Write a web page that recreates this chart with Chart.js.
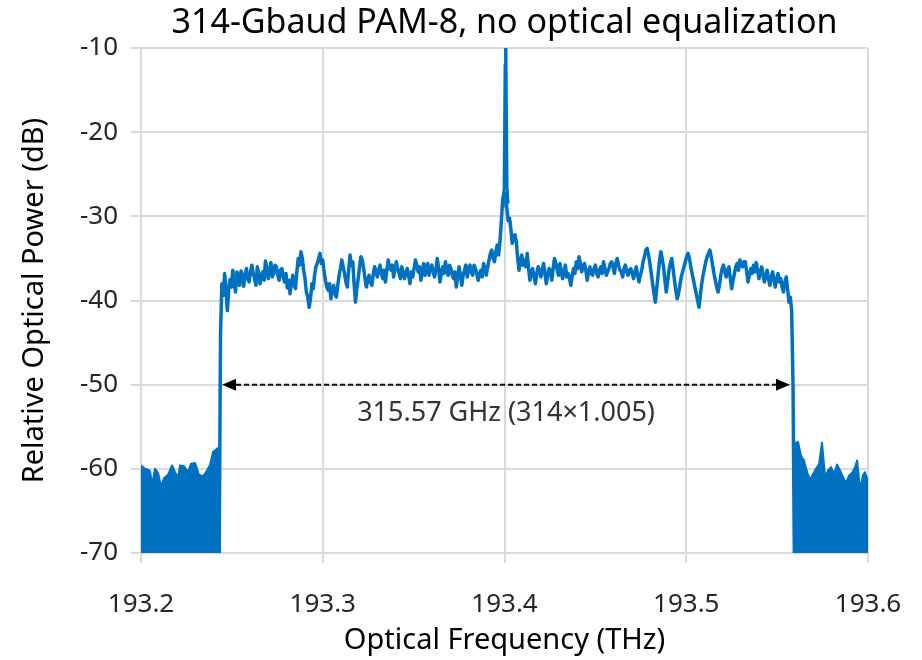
<!DOCTYPE html>
<html>
<head>
<meta charset="utf-8">
<script src="https://cdn.jsdelivr.net/npm/chart.js@4.4.1/dist/chart.umd.min.js"></script>
<style>
  html, body { margin: 0; padding: 0; background: #fff; }
  #wrap { width: 922px; height: 660px; }
</style>
</head>
<body>
<div id="wrap"><canvas id="spectrum"></canvas></div>
<script>
const chartTitle = "314-Gbaud PAM-8, no optical equalization";
const xTicks = [193.2, 193.3, 193.4, 193.5, 193.6];
const yTicks = [-70, -60, -50, -40, -30, -20, -10];

// noise floor left of the signal (THz, dB)
const leftFloorFreq = [193.2000, 193.2022, 193.2039, 193.2050, 193.2061, 193.2077, 193.2094, 193.2110, 193.2127,
  193.2149, 193.2171, 193.2187, 193.2204, 193.2215, 193.2237, 193.2259, 193.2275, 193.2297, 193.2319, 193.2341,
  193.2358, 193.2380, 193.2396, 193.2413, 193.2424];
const leftFloorPower = [-59.6, -60.0, -60.1, -60.3, -61.9, -60.0, -60.5, -62.1, -61.1,
  -60.7, -59.6, -60.4, -61.0, -59.6, -59.7, -60.4, -59.4, -59.3, -60.7, -60.9,
  -60.4, -59.5, -58.0, -57.7, -57.5];

// signal band, OSA sweep grid
const signalStart = 193.2430;
const signalStep = 0.00075;
const signalPower = [
  -71.0, -44.0, -38.0, -39.4, -36.8, -38.6, -41.2, -38.8, -37.5, -38.4,
  -36.4, -37.8, -39.0, -36.6, -37.2, -38.2, -36.5, -37.0, -38.3, -37.0,
  -36.2, -37.4, -37.8, -36.6, -35.8, -36.8, -37.4, -38.2, -36.0, -36.8,
  -38.0, -37.0, -36.6, -37.6, -35.3, -36.2, -37.4, -36.4, -35.5, -37.2,
  -36.8, -35.8, -36.0, -37.0, -37.6, -36.4, -36.2, -37.2, -37.8, -36.8,
  -38.5, -37.6, -39.2, -38.0, -37.0, -38.2, -38.6, -36.6, -35.0, -35.8,
  -34.2, -35.0, -36.4, -37.4, -39.0, -39.6, -40.8, -39.8, -38.0, -38.6,
  -37.0, -36.0, -35.6, -35.0, -34.4, -35.6, -35.2, -36.6, -37.6, -38.4,
  -38.8, -38.0, -39.8, -38.8, -38.2, -39.2, -39.6, -38.2, -37.0, -36.2,
  -35.2, -36.0, -36.8, -37.8, -38.4, -36.4, -34.6, -35.8, -35.4, -38.0,
  -40.2, -38.6, -37.4, -36.0, -34.8, -35.2, -36.2, -37.4, -38.4, -37.6,
  -37.0, -37.8, -38.2, -37.0, -36.0, -36.4, -37.2, -36.4, -35.8, -36.8,
  -37.4, -36.4, -37.8, -36.4, -35.2, -36.0, -36.4, -35.8, -37.2, -36.2,
  -35.4, -36.2, -36.8, -37.4, -36.0, -36.6, -37.4, -36.8, -36.2, -37.0,
  -38.0, -36.6, -37.2, -36.2, -35.2, -35.8, -36.6, -36.0, -37.6, -36.6,
  -35.6, -37.0, -36.4, -35.6, -37.0, -36.2, -35.8, -36.6, -37.2, -36.4,
  -35.0, -36.2, -37.8, -36.8, -36.0, -36.8, -35.4, -36.4, -37.0, -35.8,
  -36.2, -37.0, -37.4, -36.6, -38.4, -37.2, -36.0, -37.0, -38.2, -37.0,
  -36.4, -35.8, -37.2, -36.4, -35.8, -36.6, -37.0, -35.8, -36.2, -36.8,
  -37.6, -36.8, -36.4, -37.2, -35.6, -36.2, -37.0, -36.0, -35.2, -34.4,
  -34.0, -35.0, -35.4, -34.2, -33.4, -34.6, -33.0, -30.6, -28.0, -27.2,
  -27.5, -29.0, -30.5, -30.2, -31.5, -33.2, -32.6, -32.2, -33.0, -35.0,
  -36.4, -35.2, -34.6, -35.8, -35.2, -36.0, -34.4, -36.2, -37.6, -36.6,
  -36.2, -37.2, -38.0, -36.8, -36.0, -36.4, -37.2, -36.4, -35.6, -36.8,
  -38.0, -37.0, -36.2, -36.6, -37.6, -36.2, -35.0, -35.6, -36.4, -37.0,
  -35.6, -36.6, -37.4, -36.4, -35.8, -37.2, -36.8, -37.4, -38.2, -37.0,
  -36.2, -36.8, -35.4, -36.2, -34.8, -35.6, -36.6, -36.0, -35.6, -36.4,
  -37.6, -36.6, -36.0, -36.8, -37.0, -36.2, -35.8, -36.8, -37.2, -36.4,
  -36.0, -36.8, -35.4, -36.2, -37.0, -36.6, -36.2, -35.6, -35.4, -36.0,
  -36.8, -35.6, -35.0, -35.8, -36.4, -36.6, -37.2, -36.2, -35.8, -36.6,
  -37.0, -36.4, -36.2, -36.8, -37.4, -36.6, -36.0, -37.0, -37.8, -37.0,
  -36.4, -35.4, -34.8, -34.0, -33.8, -34.6, -35.6, -36.8, -38.0, -39.2,
  -40.2, -38.6, -37.0, -35.4, -34.2, -35.0, -36.0, -37.6, -39.0, -37.8,
  -36.4, -35.6, -35.0, -36.2, -37.6, -38.8, -39.8, -39.2, -38.2, -37.2,
  -36.6, -36.0, -35.4, -34.8, -34.4, -35.0, -36.0, -36.8, -37.6, -38.4,
  -39.2, -40.0, -40.8, -39.4, -38.0, -37.0, -36.2, -35.4, -34.8, -34.4,
  -34.0, -34.8, -35.8, -36.8, -37.6, -38.4, -39.0, -38.2, -37.0, -36.2,
  -35.8, -36.6, -37.2, -36.4, -36.0, -37.4, -38.6, -37.6, -36.8, -36.0,
  -35.6, -36.4, -35.2, -35.6, -36.0, -35.4, -35.4, -36.6, -37.8, -37.0,
  -36.2, -36.8, -35.8, -36.6, -35.5, -36.4, -37.4, -36.6, -36.0, -37.0,
  -37.8, -37.0, -36.4, -37.4, -38.2, -37.2, -36.6, -37.6, -38.4, -37.4,
  -36.8, -37.8, -37.4, -38.4, -39.0, -37.8, -37.2, -38.6, -40.2, -39.6,
  -41.2, -50.0, -71.0
];

// optical carrier
const carrierFreq = [193.3992, 193.3998, 193.4003, 193.4005, 193.4007, 193.4009, 193.4014, 193.4020];
const carrierPower = [-29.0, -26.5, -12.0, -3.0, -3.0, -13.0, -26.5, -28.5];

// noise floor right of the signal
const rightFloorFreq = [193.5598, 193.5615, 193.5632, 193.5648, 193.5665, 193.5681, 193.5698, 193.5714, 193.5731,
  193.5747, 193.5764, 193.5780, 193.5797, 193.5813, 193.5830, 193.5846, 193.5863, 193.5879, 193.5896, 193.5912,
  193.5929, 193.5940, 193.5956, 193.5972, 193.5983, 193.6000];
const rightFloorPower = [-57.0, -56.8, -58.5, -59.0, -60.4, -61.3, -60.6, -60.0, -59.4,
  -56.9, -61.0, -60.2, -59.8, -60.6, -59.5, -60.2, -61.0, -61.7, -60.8, -60.5,
  -59.8, -59.0, -62.5, -60.8, -60.4, -61.5];

// bandwidth marker
const spanStart = 193.2446;
const spanEnd = 193.5571;
const spanLevel = -50;
const spanLabel = "315.57 GHz (314\u00d71.005)";

const blue = "#0070C0";
const grid = "#D9D9D9";
const font = "'Noto Sans', 'Open Sans', sans-serif";

const pairs = (xs, ys) => ys.map((y, i) => ({ x: xs[i], y: y }));
const signalPoints = signalPower.map((y, i) => ({ x: signalStart + i * signalStep, y: y }));

// title centred over the plot area, plus the dashed bandwidth arrow
const overlay = {
  id: "overlay",
  afterDatasetsDraw(chart) {
    const { ctx, chartArea, scales: { x, y } } = chart;
    const x1 = x.getPixelForValue(spanStart);
    const x2 = x.getPixelForValue(spanEnd);
    const yy = y.getPixelForValue(spanLevel);
    const head = 14;
    ctx.save();
    ctx.strokeStyle = "#000";
    ctx.fillStyle = "#000";
    ctx.lineWidth = 2;
    ctx.setLineDash([5, 3]);
    ctx.beginPath();
    ctx.moveTo(x1 + head, yy);
    ctx.lineTo(x2 - head, yy);
    ctx.stroke();
    ctx.setLineDash([]);
    ctx.beginPath();
    ctx.moveTo(x1, yy);
    ctx.lineTo(x1 + head, yy - 6);
    ctx.lineTo(x1 + head, yy + 6);
    ctx.closePath();
    ctx.fill();
    ctx.beginPath();
    ctx.moveTo(x2, yy);
    ctx.lineTo(x2 - head, yy - 6);
    ctx.lineTo(x2 - head, yy + 6);
    ctx.closePath();
    ctx.fill();
    ctx.font = "27px " + font;
    ctx.fillStyle = "#333";
    ctx.textAlign = "center";
    ctx.textBaseline = "middle";
    ctx.fillText(spanLabel, (x1 + x2) / 2, y.getPixelForValue(-53.4));

    ctx.font = "34px " + font;
    ctx.fillStyle = "#000";
    ctx.textBaseline = "alphabetic";
    ctx.fillText(chartTitle, (chartArea.left + chartArea.right) / 2, 33);
    ctx.restore();
  }
};

const ctx = document.getElementById("spectrum").getContext("2d");

new Chart(ctx, {
  type: "line",
  data: {
    datasets: [
      {
        data: pairs(leftFloorFreq, leftFloorPower),
        borderColor: blue, backgroundColor: blue, borderWidth: 2, fill: "start"
      },
      {
        data: signalPoints,
        borderColor: blue, borderWidth: 3.5, fill: false
      },
      {
        data: pairs(carrierFreq, carrierPower),
        borderColor: blue, borderWidth: 3, fill: false
      },
      {
        data: pairs(rightFloorFreq, rightFloorPower),
        borderColor: blue, backgroundColor: blue, borderWidth: 2, fill: "start"
      }
    ]
  },
  options: {
    responsive: true,
    maintainAspectRatio: false,
    animation: false,
    parsing: false,
    elements: { point: { radius: 0 }, line: { tension: 0, borderJoinStyle: "round" } },
    layout: { padding: { top: 48, right: 54 } },
    plugins: {
      legend: { display: false },
      tooltip: { enabled: false },
      title: { display: false }
    },
    scales: {
      x: {
        type: "linear",
        min: 193.2,
        max: 193.6,
        afterBuildTicks: s => { s.ticks = xTicks.map(v => ({ value: v })); },
        afterFit: s => { s.height = 107; s.paddingLeft = 0; s.paddingRight = 0; },
        ticks: {
          color: "#262626",
          font: { family: font, size: 26 },
          padding: 26,
          callback: v => v.toFixed(1)
        },
        grid: { color: grid, lineWidth: 2, tickLength: 10 },
        border: { color: grid, width: 2 },
        title: {
          display: true,
          text: "Optical Frequency (THz)",
          color: "#000",
          font: { family: font, size: 29 },
          padding: { top: 0, bottom: 2 }
        }
      },
      y: {
        min: -70,
        max: -10,
        afterBuildTicks: s => { s.ticks = yTicks.map(v => ({ value: v })); },
        afterFit: s => { s.width = 141; s.paddingTop = 0; s.paddingBottom = 0; },
        ticks: {
          color: "#262626",
          font: { family: font, size: 26 },
          padding: 13
        },
        grid: { color: grid, lineWidth: 2, tickLength: 10 },
        border: { color: grid, width: 2 },
        title: {
          display: true,
          text: "Relative Optical Power (dB)",
          color: "#000",
          font: { family: font, size: 29 },
          padding: { top: 17, bottom: 0 }
        }
      }
    }
  },
  plugins: [overlay]
});
</script>
</body>
</html>
